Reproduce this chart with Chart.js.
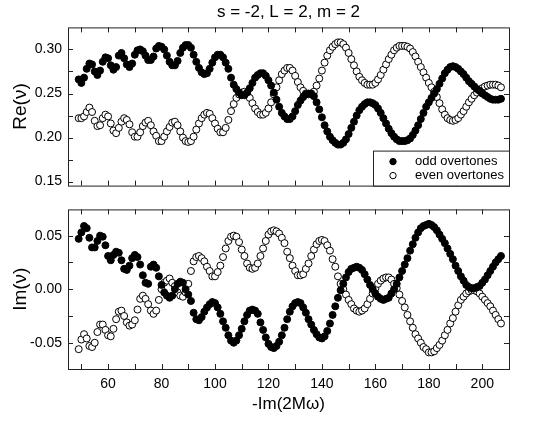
<!DOCTYPE html>
<html>
<head>
<meta charset="utf-8">
<script src="https://cdn.jsdelivr.net/npm/chart.js@4.4.0/dist/chart.umd.min.js"></script>
<style>
  body { margin: 0; background: #fff; }
  canvas { position: absolute; left: 0; }
</style>
</head>
<body>
<canvas id="reChart" width="538" height="200" style="top:0"></canvas>
<canvas id="imChart" width="538" height="228" style="top:195px"></canvas>
<script>
// -Im(2Mω) of each overtone
const overtoneX = [
  49, 50, 51, 52, 53, 54, 55, 56, 57, 58,
  59, 60, 61, 62, 63, 64, 65, 66, 67, 68,
  69, 70, 71, 72, 73, 74, 75, 76, 77, 78,
  79, 80, 81, 82, 83, 84, 85, 86, 87, 88,
  89, 90, 91, 92, 93, 94, 95, 96, 97, 98,
  99, 100, 101, 102, 103, 104, 105, 106, 107, 108,
  109, 110, 111, 112, 113, 114, 115, 116, 117, 118,
  119, 120, 121, 122, 123, 124, 125, 126, 127, 128,
  129, 130, 131, 132, 133, 134, 135, 136, 137, 138,
  139, 140, 141, 142, 143, 144, 145, 146, 147, 148,
  149, 150, 151, 152, 153, 154, 155, 156, 157, 158,
  159, 160, 161, 162, 163, 164, 165, 166, 167, 168,
  169, 170, 171, 172, 173, 174, 175, 176, 177, 178,
  179, 180, 181, 182, 183, 184, 185, 186, 187, 188,
  189, 190, 191, 192, 193, 194, 195, 196, 197, 198,
  199, 200, 201, 202, 203, 204, 205, 206, 207
];

// Re(ν), odd overtones
const reOdd = [
  0.266, 0.262, 0.268, 0.278, 0.284, 0.283, 0.275, 0.271, 0.276, 0.286,
  0.291, 0.290, 0.282, 0.277, 0.280, 0.293, 0.296, 0.290, 0.283, 0.280,
  0.284, 0.294, 0.299, 0.300, 0.298, 0.293, 0.288, 0.288, 0.292, 0.301,
  0.304, 0.303, 0.300, 0.293, 0.286, 0.282, 0.282, 0.287, 0.296, 0.302,
  0.305, 0.305, 0.302, 0.294, 0.286, 0.279, 0.274, 0.272, 0.273, 0.278,
  0.285, 0.291, 0.294, 0.294, 0.291, 0.285, 0.278, 0.268, 0.260, 0.255,
  0.251, 0.248, 0.248, 0.251, 0.256, 0.262, 0.268, 0.271, 0.273, 0.273,
  0.270, 0.265, 0.259, 0.251, 0.243, 0.235, 0.228, 0.224, 0.221, 0.221,
  0.224, 0.230, 0.237, 0.242, 0.246, 0.249, 0.250, 0.250, 0.247, 0.240,
  0.232, 0.223, 0.214, 0.207, 0.201, 0.197, 0.194, 0.192, 0.192, 0.194,
  0.198, 0.204, 0.211, 0.218, 0.225, 0.231, 0.235, 0.238, 0.240, 0.240,
  0.239, 0.237, 0.233, 0.228, 0.222, 0.216, 0.210, 0.205, 0.201, 0.198,
  0.196, 0.196, 0.196, 0.197, 0.199, 0.203, 0.208, 0.214, 0.221, 0.228,
  0.235, 0.240, 0.245, 0.250, 0.255, 0.261, 0.267, 0.273, 0.277, 0.280,
  0.281, 0.280, 0.278, 0.275, 0.272, 0.268, 0.264, 0.261, 0.258, 0.255,
  0.253, 0.250, 0.248, 0.246, 0.244, 0.243, 0.243, 0.243, 0.244
];

// Re(ν), even overtones
const reEven = [
  0.222, 0.222, 0.224, 0.229, 0.234, 0.229, 0.219, 0.213, 0.214, 0.222,
  0.226, 0.224, 0.216, 0.208, 0.205, 0.211, 0.218, 0.222, 0.220, 0.215,
  0.206, 0.201, 0.201, 0.206, 0.213, 0.217, 0.219, 0.214, 0.207, 0.202,
  0.196, 0.196, 0.201, 0.207, 0.212, 0.217, 0.218, 0.214, 0.207, 0.200,
  0.196, 0.195, 0.196, 0.201, 0.209, 0.216, 0.222, 0.226, 0.228, 0.227,
  0.222, 0.216, 0.210, 0.206, 0.206, 0.211, 0.220, 0.230, 0.238, 0.245,
  0.249, 0.251, 0.252, 0.250, 0.245, 0.239, 0.233, 0.229, 0.226, 0.226,
  0.228, 0.233, 0.240, 0.249, 0.257, 0.265, 0.272, 0.276, 0.279, 0.279,
  0.276, 0.270, 0.263, 0.257, 0.253, 0.250, 0.249, 0.249, 0.252, 0.259,
  0.267, 0.276, 0.285, 0.293, 0.299, 0.303, 0.306, 0.308, 0.308, 0.306,
  0.302, 0.296, 0.289, 0.282, 0.275, 0.269, 0.265, 0.262, 0.260, 0.260,
  0.260, 0.262, 0.266, 0.271, 0.277, 0.283, 0.289, 0.294, 0.299, 0.302,
  0.304, 0.304, 0.304, 0.303, 0.301, 0.297, 0.292, 0.286, 0.280, 0.274,
  0.268, 0.262, 0.257, 0.252, 0.246, 0.239, 0.232, 0.226, 0.222, 0.220,
  0.219, 0.220, 0.222, 0.226, 0.230, 0.235, 0.240, 0.244, 0.248, 0.251,
  0.253, 0.256, 0.258, 0.259, 0.260, 0.260, 0.260, 0.259, 0.257
];

// Im(ν), odd overtones
const imOdd = [
  0.047, 0.053, 0.059, 0.057, 0.048, 0.039, 0.039, 0.045, 0.050, 0.049,
  0.041, 0.031, 0.027, 0.032, 0.035, 0.034, 0.027, 0.019, 0.018, 0.022,
  0.029, 0.032, 0.030, 0.023, 0.013, 0.006, 0.005, 0.021, 0.023, 0.020,
  0.012, 0.004, -0.003, -0.006, -0.008, -0.006, 0.000, 0.005, 0.007, 0.006,
  0.000, -0.005, -0.011, -0.022, -0.028, -0.029, -0.026, -0.021, -0.017, -0.014,
  -0.012, -0.013, -0.017, -0.023, -0.030, -0.036, -0.043, -0.048, -0.050, -0.048,
  -0.043, -0.037, -0.030, -0.024, -0.020, -0.019, -0.020, -0.023, -0.031, -0.038,
  -0.045, -0.051, -0.054, -0.055, -0.053, -0.049, -0.043, -0.036, -0.028, -0.021,
  -0.016, -0.013, -0.012, -0.013, -0.017, -0.022, -0.028, -0.033, -0.038, -0.042,
  -0.045, -0.046, -0.044, -0.039, -0.032, -0.024, -0.016, -0.008, -0.001, 0.005,
  0.011, 0.016, 0.019, 0.020, 0.021, 0.020, 0.018, 0.014, 0.009, 0.004,
  0.000, -0.004, -0.007, -0.009, -0.010, -0.009, -0.008, -0.004, 0.000, 0.005,
  0.011, 0.017, 0.023, 0.029, 0.036, 0.042, 0.048, 0.053, 0.057, 0.059,
  0.060, 0.061, 0.060, 0.058, 0.055, 0.051, 0.047, 0.043, 0.038, 0.033,
  0.028, 0.022, 0.017, 0.012, 0.008, 0.004, 0.002, 0.001, 0.001, 0.002,
  0.003, 0.006, 0.009, 0.013, 0.017, 0.021, 0.025, 0.028, 0.031
];

// Im(ν), even overtones
const imEven = [
  -0.056, -0.047, -0.042, -0.046, -0.053, -0.054, -0.050, -0.040, -0.033, -0.033,
  -0.038, -0.043, -0.044, -0.037, -0.028, -0.021, -0.020, -0.025, -0.031, -0.034,
  -0.033, -0.029, -0.019, -0.009, -0.006, -0.009, -0.014, -0.020, -0.023, -0.020,
  -0.010, 0.000, 0.006, 0.008, 0.010, 0.006, 0.003, -0.003, -0.006, -0.007,
  -0.003, 0.005, 0.017, 0.026, 0.030, 0.031, 0.029, 0.026, 0.021, 0.017,
  0.012, 0.012, 0.016, 0.022, 0.030, 0.038, 0.045, 0.049, 0.050, 0.049,
  0.044, 0.037, 0.031, 0.024, 0.020, 0.019, 0.020, 0.024, 0.031, 0.038,
  0.045, 0.051, 0.054, 0.055, 0.054, 0.052, 0.048, 0.043, 0.035, 0.029,
  0.022, 0.017, 0.013, 0.013, 0.014, 0.019, 0.024, 0.031, 0.037, 0.042,
  0.045, 0.046, 0.045, 0.041, 0.036, 0.028, 0.021, 0.012, 0.005, 0.000,
  -0.005, -0.010, -0.014, -0.018, -0.020, -0.021, -0.020, -0.018, -0.014, -0.009,
  -0.004, 0.001, 0.005, 0.008, 0.010, 0.011, 0.011, 0.009, 0.005, 0.001,
  -0.005, -0.011, -0.017, -0.024, -0.030, -0.036, -0.042, -0.046, -0.050, -0.054,
  -0.056, -0.059, -0.059, -0.058, -0.055, -0.052, -0.048, -0.043, -0.038, -0.032,
  -0.027, -0.021, -0.015, -0.010, -0.007, -0.004, -0.002, -0.001, -0.001, -0.002,
  -0.004, -0.007, -0.010, -0.013, -0.016, -0.020, -0.024, -0.028, -0.032
];

// tick labels and tick marks
const xTickLabels = [60, 80, 100, 120, 140, 160, 180, 200];
const xTickMarks = [50, 60, 70, 80, 90, 100, 110, 120, 130, 140, 150, 160, 170, 180, 190, 200];
const reTickLabels = [0.15, 0.20, 0.25, 0.30];
const reTickMarks = [0.15, 0.175, 0.20, 0.225, 0.25, 0.275, 0.30];
const imTickLabels = [-0.05, 0.00, 0.05];
const imTickMarks = [-0.05, -0.025, 0.00, 0.025, 0.05];

const FONT = 'Arial, "Liberation Sans", sans-serif';
Chart.defaults.font.family = FONT;
Chart.defaults.color = '#000';
Chart.defaults.animation = false;

const toPoints = (ys) => overtoneX.map((x, i) => ({ x: x, y: ys[i] }));

// border box + inward tick marks on all four sides
const framePlugin = {
  id: 'frame',
  afterDatasetsDraw(chart, args, opts) {
    const { ctx, chartArea: a, scales: { x, y } } = chart;
    ctx.save();
    ctx.strokeStyle = '#222';
    ctx.lineWidth = 1;
    ctx.strokeRect(a.left + 0.5, a.top + 0.5, a.right - a.left, a.bottom - a.top);
    ctx.beginPath();
    opts.xMarks.forEach(v => {
      const px = Math.round(x.getPixelForValue(v)) + 0.5;
      ctx.moveTo(px, a.top); ctx.lineTo(px, a.top + 5);
      ctx.moveTo(px, a.bottom); ctx.lineTo(px, a.bottom - 5);
    });
    opts.yMarks.forEach(v => {
      const py = Math.round(y.getPixelForValue(v)) + 0.5;
      ctx.moveTo(a.left, py); ctx.lineTo(a.left + 5, py);
      ctx.moveTo(a.right, py); ctx.lineTo(a.right - 5, py);
    });
    ctx.stroke();
    ctx.restore();
  }
};

// legend box in the lower right corner of the top panel
const legendPlugin = {
  id: 'overtoneLegend',
  afterDraw(chart) {
    const { ctx, chartArea: a } = chart;
    const w = 136, h = 35;
    const left = a.right - w, top = a.bottom - h;
    ctx.save();
    ctx.fillStyle = '#fff';
    ctx.fillRect(left, top, w, h);
    ctx.strokeStyle = '#222';
    ctx.lineWidth = 1;
    ctx.strokeRect(left + 0.5, top + 0.5, w, h);
    chart.data.datasets.forEach((ds, i) => {
      const cy = top + 11 + i * 14;
      ctx.beginPath();
      ctx.arc(left + 20, cy, 3.2, 0, Math.PI * 2);
      ctx.fillStyle = ds.pointBackgroundColor;
      ctx.fill();
      ctx.strokeStyle = '#000';
      ctx.stroke();
      ctx.fillStyle = '#000';
      ctx.font = '13px ' + FONT;
      ctx.textBaseline = 'middle';
      ctx.fillText(ds.label, left + 42, cy);
    });
    ctx.restore();
  }
};

function makeDatasets(oddVals, evenVals) {
  return [
    {
      label: 'odd overtones',
      data: toPoints(oddVals),
      pointRadius: 3.5,
      pointBackgroundColor: '#000',
      pointBorderColor: '#000',
      pointBorderWidth: 1
    },
    {
      label: 'even overtones',
      data: toPoints(evenVals),
      pointRadius: 3.5,
      pointBackgroundColor: '#fff',
      pointBorderColor: '#000',
      pointBorderWidth: 1
    }
  ];
}

const noGrid = { display: false, drawTicks: false };

// top panel: Re(ν)
new Chart(document.getElementById('reChart'), {
  type: 'scatter',
  data: { datasets: makeDatasets(reOdd, reEven) },
  options: {
    responsive: false,
    devicePixelRatio: 1,
    layout: { padding: { left: 0, right: 29, top: 0, bottom: 0 } },
    plugins: {
      legend: { display: false },
      tooltip: { enabled: false },
      title: {
        display: true,
        text: 's = -2, L = 2, m = 2',
        fullSize: false,
        color: '#000',
        font: { size: 17, weight: 'normal' },
        padding: { top: 2, bottom: 5 }
      },
      frame: { xMarks: xTickMarks, yMarks: reTickMarks }
    },
    scales: {
      x: {
        type: 'linear', min: 45, max: 210,
        grid: noGrid, border: { display: false },
        ticks: { display: false },
        afterFit(s) { s.height = 7; }
      },
      y: {
        type: 'linear', min: 0.1455, max: 0.325,
        grid: noGrid, border: { display: false },
        afterBuildTicks(s) { s.ticks = reTickLabels.map(v => ({ value: v })); },
        ticks: { font: { size: 14 }, color: '#000', padding: 6, callback: v => v.toFixed(2) },
        title: { display: true, text: 'Re(ν)', color: '#000', font: { size: 19 }, padding: { top: 9, bottom: 0 } },
        afterFit(s) { s.width = 68; }
      }
    }
  },
  plugins: [framePlugin, legendPlugin]
});

// bottom panel: Im(ν)
new Chart(document.getElementById('imChart'), {
  type: 'scatter',
  data: { datasets: makeDatasets(imOdd, imEven) },
  options: {
    responsive: false,
    devicePixelRatio: 1,
    layout: { padding: { left: 0, right: 29, top: 8, bottom: 0 } },
    plugins: {
      legend: { display: false },
      tooltip: { enabled: false },
      frame: { xMarks: xTickMarks, yMarks: imTickMarks }
    },
    scales: {
      x: {
        type: 'linear', min: 45, max: 210,
        grid: noGrid, border: { display: false },
        afterBuildTicks(s) { s.ticks = xTickLabels.map(v => ({ value: v })); },
        ticks: { font: { size: 14 }, color: '#000', padding: 7, maxRotation: 0 },
        title: { display: true, text: '-Im(2Mω)', color: '#000', font: { size: 17 }, padding: { top: 0, bottom: 8 } },
        afterFit(s) { s.height = 54; }
      },
      y: {
        type: 'linear', min: -0.0745, max: 0.0745,
        grid: noGrid, border: { display: false },
        afterBuildTicks(s) { s.ticks = imTickLabels.map(v => ({ value: v })); },
        ticks: { font: { size: 14 }, color: '#000', padding: 6, callback: v => v.toFixed(2) },
        title: { display: true, text: 'Im(ν)', color: '#000', font: { size: 19 }, padding: { top: 9, bottom: 0 } },
        afterFit(s) { s.width = 68; }
      }
    }
  },
  plugins: [framePlugin]
});
</script>
</body>
</html>
